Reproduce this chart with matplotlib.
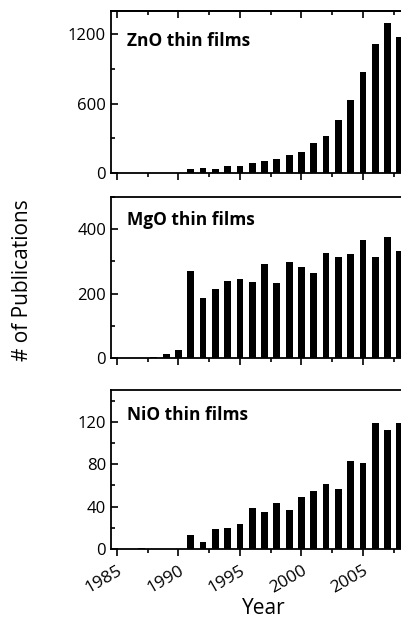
import numpy as np
import matplotlib.pyplot as plt
from matplotlib.ticker import MultipleLocator

plt.rcParams['font.family'] = ['Open Sans', 'DejaVu Sans']

# Publicaciones por año (1985-2008)
years = np.arange(1985, 2009)
zno = [0, 0, 0, 0, 0, 0, 32, 46, 32, 57, 60, 86, 103, 123, 155, 178,
       261, 316, 462, 634, 876, 1120, 1300, 1177]
mgo = [1, 1, 1, 2, 11, 24, 271, 185, 214, 240, 246, 235, 293, 233, 299, 283,
       263, 325, 313, 322, 366, 315, 375, 332]
nio = [0, 0, 1, 0, 0.4, 0.4, 13, 7, 18.5, 20, 24, 39, 35, 43, 37, 49,
       55, 61, 57, 83, 81, 119, 112, 119]

labels = ['ZnO thin films', 'MgO thin films', 'NiO thin films']
series = [zno, mgo, nio]
ylims = [1400, 500, 150]
major = [600, 200, 40]
minor = [300, 100, 20]
xticks = [1985, 1990, 1995, 2000, 2005]

fig = plt.figure(figsize=(4.02, 6.2), dpi=100)
# [left, bottom, width, height] de cada panel
pos = [[0.276, 0.721, 0.76, 0.261],
       [0.276, 0.4226, 0.76, 0.2597],
       [0.276, 0.1145, 0.76, 0.2565]]
title_y = [0.815, 0.857, 0.843]

for i in range(3):
    ax = fig.add_axes(pos[i])
    ax.bar(years, series[i], width=0.55, color='black')
    ax.set_xlim(1984.51, 2009.35)
    ax.set_ylim(0, ylims[i])
    ax.yaxis.set_major_locator(MultipleLocator(major[i]))
    ax.yaxis.set_minor_locator(MultipleLocator(minor[i]))
    ax.set_xticks(xticks)
    ax.xaxis.set_minor_locator(MultipleLocator(2.5))
    for s in ax.spines.values():
        s.set_linewidth(1.3)
    ax.spines['right'].set_visible(False)
    ax.tick_params(axis='y', which='both', direction='in', width=1.2, labelsize=12)
    ax.tick_params(axis='y', which='major', length=5)
    ax.tick_params(axis='y', which='minor', length=3)
    ax.tick_params(axis='x', which='both', direction='out', width=1.2, labelsize=12.5)
    ax.tick_params(axis='x', which='major', length=5, pad=5)
    ax.tick_params(axis='x', which='minor', length=3)
    if i == 0:
        # marcas hacia dentro en el borde superior
        top = ax.secondary_xaxis('top')
        top.set_xticks(xticks)
        top.xaxis.set_minor_locator(MultipleLocator(2.5))
        top.set_xticklabels([])
        top.spines['top'].set_linewidth(1.3)
        top.tick_params(which='both', direction='in', width=1.2)
        top.tick_params(which='major', length=5)
        top.tick_params(which='minor', length=3)
    if i < 2:
        ax.set_xticklabels([])
    else:
        ax.set_xticklabels([str(x) for x in xticks], rotation=30,
                           ha='right', rotation_mode='anchor')
        ax.set_xlabel('Year', fontsize=15, labelpad=1)
    ax.text(0.052, title_y[i], labels[i], transform=ax.transAxes,
            fontsize=12.5, fontweight='bold', va='center', ha='left')

fig.text(0.055, 0.548, '# of Publications', rotation=90, fontsize=15,
         ha='center', va='center')

fig.savefig('out.png', dpi=100)
